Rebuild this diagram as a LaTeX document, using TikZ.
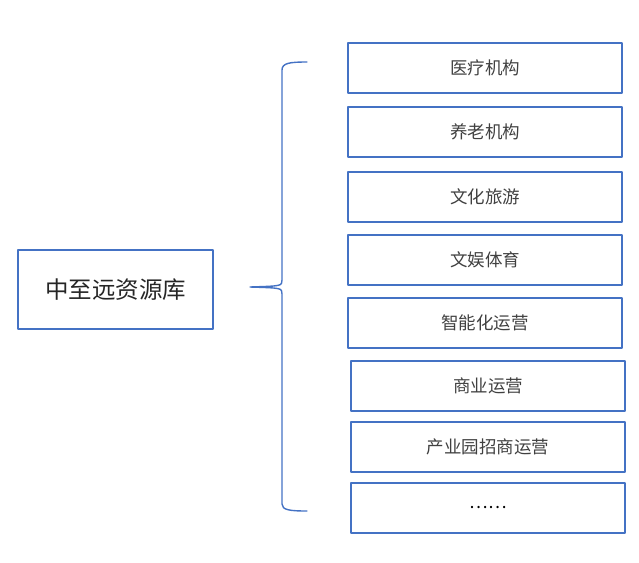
\documentclass[tikz,border=0pt]{standalone}
\usepackage{fontspec}
\newfontfamily\cjk{Noto Sans CJK SC}
\usepackage{tikz}
\definecolor{boxblue}{HTML}{4472C4}
\definecolor{txtgray}{HTML}{404040}
\tikzset{
  itembox/.style={draw=boxblue, line width=1.4pt, minimum width=274pt, minimum height=50pt,
    inner sep=0pt, text=txtgray, font=\cjk\fontsize{17.5pt}{20pt}\selectfont},
  rootbox/.style={draw=boxblue, line width=1.4pt, minimum width=195pt, minimum height=79pt,
    inner sep=0pt, text=black!85, font=\cjk\fontsize{23.5pt}{26pt}\selectfont},
}
\begin{document}
\begin{tikzpicture}[line cap=round,line join=round, x=1pt,y=-1pt]
\useasboundingbox (0,0) rectangle (639,562);
\node [rootbox] (root) at (115.5,289.5) {中至远资源库};
\node [itembox] (medical) at (485,68) {医疗机构};
\node [itembox] (elderly) at (485,132) {养老机构};
\node [itembox] (tourism) at (485,197) {文化旅游};
\node [itembox] (sports) at (485,260) {文娱体育};
\node [itembox] (smart) at (485,323) {智能化运营};
\node [itembox] (commerce) at (488,386) {商业运营};
\node [itembox] (park) at (488,447) {产业园招商运营};
\node [itembox] (more) at (488,508) {\textcolor{black}{……}};
% brace
\coordinate (bracetop) at (307,62);
\coordinate (bracetip) at (250,287);
\coordinate (bracebot) at (307,511);
\draw [boxblue, line width=1.4pt] (bracetop) .. controls (290,62) and (282,63) .. (282,70)
  -- (282,280) .. controls (282,286) .. (bracetip)
  .. controls (282,288) .. (282,294) -- (282,504)
  .. controls (282,510) and (290,511) .. (bracebot);
\end{tikzpicture}
\end{document}
